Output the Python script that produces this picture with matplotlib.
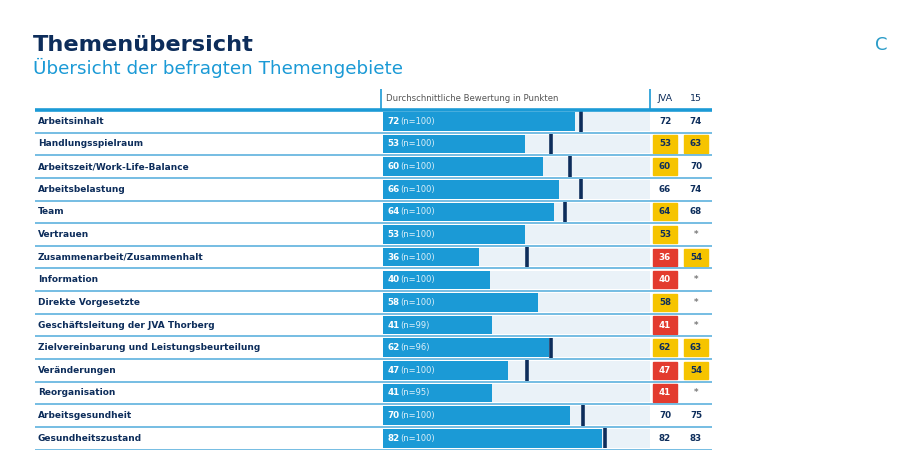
import matplotlib.pyplot as plt
from matplotlib.patches import Rectangle

# Daten
themen = ["Arbeitsinhalt", "Handlungsspielraum", "Arbeitszeit/Work-Life-Balance",
          "Arbeitsbelastung", "Team", "Vertrauen", "Zusammenarbeit/Zusammenhalt",
          "Information", "Direkte Vorgesetzte", "Geschäftsleitung der JVA Thorberg",
          "Zielvereinbarung und Leistungsbeurteilung", "Veränderungen",
          "Reorganisation", "Arbeitsgesundheit", "Gesundheitszustand"]
jva = [72, 53, 60, 66, 64, 53, 36, 40, 58, 41, 62, 47, 41, 70, 82]
n_werte = [100, 100, 100, 100, 100, 100, 100, 100, 100, 99, 96, 100, 95, 100, 100]
vergleich_15 = [74, 63, 70, 74, 68, None, 54, None, None, None, 63, 54, None, 75, 83]

BLAU = "#1B9AD6"
HELL = "#EAF2F8"
NAVY = "#0D2D5B"
LINIE = "#5DB2DE"
GELB = "#F6C400"
ROT = "#E33B2E"


def box_farbe(v):
    if v is None:
        return None
    if v < 50:
        return ROT
    if v < 65:
        return GELB
    return None


fig = plt.figure(figsize=(9, 4.5), dpi=100)
fig.patch.set_facecolor("white")

# Titel
fig.text(33 / 900, 1 - 45 / 450, "Themenübersicht", fontsize=16.2, fontweight="bold",
         color=NAVY, va="center", ha="left")
fig.text(33 / 900, 1 - 68 / 450, "Übersicht der befragten Themengebiete", fontsize=13.2,
         color=BLAU, va="center", ha="left")
fig.text(881 / 900, 1 - 45 / 450, "C", fontsize=13, color="#2A9CC8", va="center", ha="center")

# Achse: x in Punkten (0..100), y in Zeilen
px = 2.67  # Pixel pro Punkt
x0 = 383
ax = fig.add_axes([35 / 900, 0.001, (712 - 35) / 900, 1 - 87.4 / 450 - 0.001])
ax.set_xlim((35 - x0) / px, (712 - x0) / px)
ax.set_ylim(14.5, -1.5)
ax.axis("off")

y = list(range(len(themen)))
h = 0.82
ax.barh(y, [100] * len(y), height=h, color=HELL, zorder=1)
ax.barh(y, jva, height=h, color=BLAU, zorder=2)

for i, v in enumerate(vergleich_15):
    if v is not None:
        ax.vlines(v, i - 0.45, i + 0.45, color=NAVY, lw=2.6, zorder=3)

x_lab = (38 - x0) / px
x_jva = (665 - x0) / px
x_15 = (696 - x0) / px
bw = 24 / px

for i, t in enumerate(themen):
    ax.text(x_lab, i, t, fontsize=6.5, fontweight="bold", color=NAVY, va="center", ha="left")
    ax.text(1.8, i, f"{jva[i]}", fontsize=6.3, fontweight="bold", color="white",
            va="center", ha="left", zorder=4)
    ax.text(1.8 + (4.7 if jva[i] >= 10 else 2.5), i, f"(n={n_werte[i]})", fontsize=6,
            color="white", va="center", ha="left", zorder=4, alpha=0.85)
    # JVA Spalte
    c = box_farbe(jva[i])
    if c:
        ax.add_patch(Rectangle((x_jva - bw / 2, i - 0.38), bw, 0.76, color=c, zorder=2))
    ax.text(x_jva, i, f"{jva[i]}", fontsize=6.3, fontweight="bold",
            color="white" if c == ROT else NAVY, va="center", ha="center", zorder=3)
    # 15 Spalte
    v = vergleich_15[i]
    c = box_farbe(v)
    if c:
        ax.add_patch(Rectangle((x_15 - bw / 2, i - 0.38), bw, 0.76, color=c, zorder=2))
    ax.text(x_15, i, f"{v}" if v is not None else "*", fontsize=6.3, fontweight="bold",
            color=NAVY if v is not None else "#777777", va="center", ha="center", zorder=3)
    # Trennlinie
    ax.axhline(i + 0.5, color=LINIE, lw=1.2, zorder=5)

# Kopfzeile
ax.axhline(-0.5, color=BLAU, lw=2.6, zorder=5)
ax.vlines([(381 - x0) / px, (650 - x0) / px], -1.45, -0.5, color=BLAU, lw=1.2)
ax.text(1.2, -1.0, "Durchschnittliche Bewertung in Punkten", fontsize=6.1,
        color="#555555", va="center", ha="left")
ax.text(x_jva, -1.0, "JVA", fontsize=6.8, color=NAVY, va="center", ha="center")
ax.text(x_15, -1.0, "15", fontsize=6.8, color=NAVY, va="center", ha="center")

fig.savefig("out.png", dpi=100)
